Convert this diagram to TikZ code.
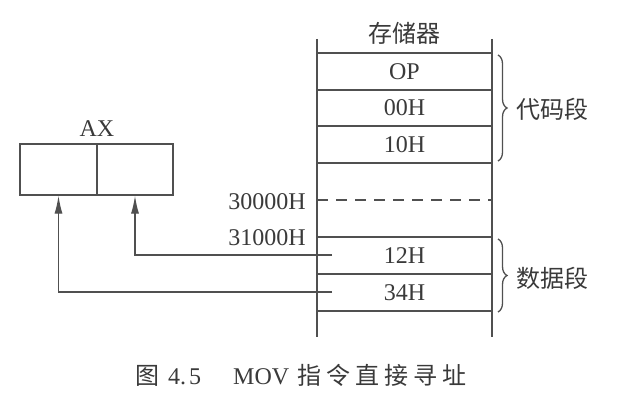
\documentclass[tikz,border=0pt]{standalone}
\usepackage{fontspec}
\setmainfont{Liberation Serif}
\newfontfamily\cjk{Noto Sans CJK SC}
\usetikzlibrary{arrows.meta,decorations.pathreplacing}
\definecolor{ink}{HTML}{3A3A3A}
\definecolor{linec}{HTML}{505050}
\tikzset{
  lbl/.style={inner sep=0pt, text=ink, font=\fontsize{24pt}{28pt}\selectfont},
  cell/.style={draw=linec, line width=1.3pt, minimum width=175pt, minimum height=37pt, inner sep=0pt, text=ink, font=\fontsize{24pt}{28pt}\selectfont},
  axcell/.style={draw=linec, line width=1.3pt, minimum height=51pt, inner sep=0pt},
  ln/.style={draw=linec, line width=1.3pt},
  arr/.style={ln, -{Latex[length=18pt,width=8pt]}},
  brc/.style={ln, decorate, decoration={brace, amplitude=9pt}},
}
\begin{document}
\begin{tikzpicture}[x=1pt, y=-1pt]
\useasboundingbox (0,0) rectangle (620,414);
\fill[white] (0,0) rectangle (620,414);
% memory column
\coordinate (mtl) at (317,39);
\coordinate (mbl) at (317,337);
\coordinate (mtr) at (492,39);
\coordinate (mbr) at (492,337);
\draw[ln] (mtl) -- (mbl);
\draw[ln] (mtr) -- (mbr);
\node[lbl] (memt) at (404.5,33) {\cjk 存储器};
\node[cell] (c1) at (404.5,71.5) {OP};
\node[cell] (c2) at (404.5,108) {00H};
\node[cell] (c3) at (404.5,144.5) {10H};
\node[cell] (d1) at (404.5,255.5) {12H};
\node[cell] (d2) at (404.5,292.5) {34H};
% dashed line
\coordinate (dl) at (317,200);
\coordinate (dr) at (492,200);
\draw[ln, dash pattern=on 11pt off 8pt] (dl) -- (dr);
\node[lbl, anchor=east] (a30) at (306,202) {30000H};
\node[lbl, anchor=east] (a31) at (306,238) {31000H};
% braces
\coordinate (b1t) at (498,55);
\coordinate (b1b) at (498,161);
\coordinate (b2t) at (498,239);
\coordinate (b2b) at (498,312);
\draw[brc] (b1t) -- (b1b);
\draw[brc] (b2t) -- (b2b);
\node[lbl, anchor=west] (code) at (516,109) {\cjk 代码段};
\node[lbl, anchor=west] (data) at (516,278) {\cjk 数据段};
% AX register
\node[axcell, minimum width=77pt] (axl) at (58.5,169.5) {};
\node[axcell, minimum width=76pt] (axr) at (135,169.5) {};
\node[lbl] (axt) at (97,129) {AX};
% arrows
\coordinate (e1) at (332,255);
\coordinate (e2) at (332,292);
\draw[arr] (e1) -| (axr.south);
\draw[arr] (e2) -| (axl.south);
% caption
\node[lbl, anchor=west] (cap) at (135,375) {{\cjk 图}\hspace{9pt}4.\hspace{3pt}5\hspace{32pt}MOV\hspace{8pt}{\cjk 指\hspace{5pt}令\hspace{5pt}直\hspace{5pt}接\hspace{5pt}寻\hspace{5pt}址}};
\end{tikzpicture}
\end{document}
